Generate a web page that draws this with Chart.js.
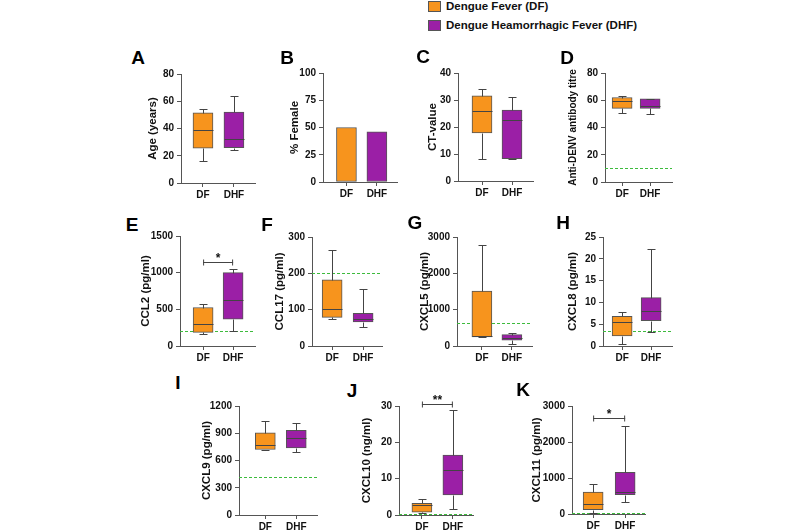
<!DOCTYPE html>
<html>
<head>
<meta charset="utf-8">
<script src="https://cdn.jsdelivr.net/npm/chart.js@4"></script>
<style>
  body { margin: 0; background: #fff; }
  #fig { position: relative; width: 800px; height: 530px; overflow: hidden; font-family: 'Liberation Sans', Arial, sans-serif; }
  #fig canvas { position: absolute; }
  .tag { position: absolute; font-weight: bold; font-size: 19px; transform: translate(-50%, -50%); color: #000; }
  .key { position: absolute; left: 428px; width: 11px; height: 9px; border: 1px solid #555; }
  .keytxt { position: absolute; left: 446px; font-weight: bold; font-size: 11.5px; line-height: 13px; color: #111; white-space: nowrap; }
</style>
</head>
<body>
<div id="fig"></div>
<script>
const groups = ['DF', 'DHF'];
const seriesNames = ['Dengue Fever (DF)', 'Dengue Heamorrhagic Fever (DHF)'];

// box plots: [min, Q1, median, Q3, max]
const ageDF = [16, 25.5, 39, 51.5, 54];
const ageDHF = [24, 26, 32, 52, 64];
const femaleDF = 50;
const femaleDHF = 46;
const ctDF = [8.3, 17.8, 25.8, 31.5, 34];
const ctDHF = [8, 8.3, 22.5, 26.3, 31];
const titreDF = [51, 54, 59.5, 62, 62.8];
const titreDHF = [50, 54, 56, 61, 61];
const ccl2DF = [160, 185, 300, 525, 570];
const ccl2DHF = [210, 365, 630, 1000, 1050];
const ccl17DF = [75, 79, 101, 182, 263];
const ccl17DHF = [53, 66, 73, 90, 156];
const cxcl5DF = [240, 250, 265, 1510, 2780];
const cxcl5DHF = [65, 158, 233, 315, 370];
const cxcl8DF = [0.5, 2.3, 5.4, 6.8, 7.9];
const cxcl8DHF = [3.1, 5.8, 8, 11.1, 22.3];
const cxcl9DF = [714, 721, 776, 904, 1032];
const cxcl9DHF = [695, 739, 849, 933, 1018];
const cxcl10DF = [0.45, 0.75, 2.75, 3.2, 4.3];
const cxcl10DHF = [1.65, 5.5, 12.5, 16.5, 29];
const cxcl11DF = [28, 120, 277, 610, 840];
const cxcl11DHF = [332, 540, 620, 1155, 2446];

// dotted reference levels
const refTitre = 10, refCcl2 = 200, refCcl17 = 200, refCxcl5 = 620;
const refCxcl8 = 3.5, refCxcl9 = 420, refCxcl10 = 0.3, refCxcl11 = 30;

// significance brackets: [level, label]
const sigCcl2 = [1150, '*'];
const sigCxcl10 = [30.6, '**'];
const sigCxcl11 = [2680, '*'];

const COLORS = ['#F7941D', '#9B1FA6'];
const EDGE = '#555';
const FONT = "'Liberation Sans', Arial, sans-serif";
const fig = document.getElementById('fig');

// legend as plain html
seriesNames.forEach((name, i) => {
  const k = document.createElement('div');
  k.className = 'key';
  k.style.top = (1 + i * 19) + 'px';
  k.style.background = COLORS[i];
  fig.appendChild(k);
  const t = document.createElement('div');
  t.className = 'keytxt';
  t.style.top = (0 + i * 19) + 'px';
  t.textContent = name;
  fig.appendChild(t);
});

function boxPlugin(stats, ref, sig) {
  return {
    id: 'boxes',
    beforeDatasetsDraw(chart) {
      if (ref == null) return;
      const {ctx, chartArea, scales: {y}} = chart;
      const py = Math.round(y.getPixelForValue(ref)) + 0.5;
      ctx.save();
      ctx.strokeStyle = '#3dbb3d';
      ctx.lineWidth = 1;
      ctx.setLineDash([3, 2]);
      ctx.beginPath();
      ctx.moveTo(chartArea.left, py);
      ctx.lineTo(chartArea.right, py);
      ctx.stroke();
      ctx.restore();
    },
    afterDatasetsDraw(chart) {
      const {ctx, scales: {x, y}} = chart;
      ctx.save();
      ctx.strokeStyle = '#444';
      ctx.lineWidth = 1;
      stats.forEach((s, i) => {
        if (!Array.isArray(s)) return;
        const cx = Math.round(x.getPixelForValue(i)) + 0.5;
        const [mn, q1, md, q3, mx] = s.map(v => Math.round(y.getPixelForValue(v)) + 0.5);
        ctx.beginPath();
        ctx.moveTo(cx, q3); ctx.lineTo(cx, mx);
        ctx.moveTo(cx - 4, mx); ctx.lineTo(cx + 4, mx);
        ctx.moveTo(cx, q1); ctx.lineTo(cx, mn);
        ctx.moveTo(cx - 4, mn); ctx.lineTo(cx + 4, mn);
        ctx.moveTo(cx - 10, md); ctx.lineTo(cx + 10, md);
        ctx.stroke();
      });
      if (sig) {
        const x0 = x.getPixelForValue(0), x1 = x.getPixelForValue(1);
        const py = Math.round(y.getPixelForValue(sig[0])) + 0.5;
        ctx.beginPath();
        ctx.moveTo(x0, py); ctx.lineTo(x1, py);
        ctx.moveTo(x0 + 0.5, py - 3); ctx.lineTo(x0 + 0.5, py + 3);
        ctx.moveTo(x1 - 0.5, py - 3); ctx.lineTo(x1 - 0.5, py + 3);
        ctx.stroke();
        ctx.fillStyle = '#111';
        ctx.font = 'bold 12px ' + FONT;
        ctx.textAlign = 'center';
        ctx.textBaseline = 'alphabetic';
        ctx.fillText(sig[1], (x0 + x1) / 2, py - 1);
      }
      ctx.restore();
    }
  };
}

function makePanel(p) {
  const titleSize = p.titleSize || 11.5;
  const W = Math.round(p.gap + titleSize * 0.6);
  const padT = 16, padR = 4, H = 24;
  const cv = document.createElement('canvas');
  cv.width = W + (p.right - p.axisX) + padR;
  cv.height = (p.bottom - p.top) + padT + H;
  cv.style.left = (p.axisX - W) + 'px';
  cv.style.top = (p.top - padT) + 'px';
  fig.appendChild(cv);

  const tag = document.createElement('div');
  tag.className = 'tag';
  tag.style.left = p.tagAt[0] + 'px';
  tag.style.top = p.tagAt[1] + 'px';
  tag.textContent = p.tag;
  fig.appendChild(tag);

  const isBox = Array.isArray(p.values[0]);
  const data = p.values.map((v, i) => ({x: i, y: isBox ? [v[1], v[3]] : v}));
  const tickFont = {family: FONT, size: 10, weight: 'bold'};

  new Chart(cv, {
    type: 'bar',
    data: {
      datasets: [{
        data: data,
        backgroundColor: COLORS,
        borderColor: EDGE,
        borderWidth: 1,
        borderSkipped: false,
        barThickness: 20
      }]
    },
    options: {
      responsive: false,
      animation: false,
      layout: {padding: {top: padT, right: padR, left: 0, bottom: 0}},
      plugins: {legend: {display: false}, tooltip: {enabled: false}},
      scales: {
        x: {
          type: 'linear',
          offset: false,
          min: p.xr[0],
          max: p.xr[1],
          afterBuildTicks: s => { s.ticks = [{value: 0}, {value: 1}]; },
          afterFit: s => { s.height = H; },
          ticks: {callback: (v, i) => groups[i], font: tickFont, color: '#111', padding: 2, autoSkip: false, maxRotation: 0},
          grid: {offset: false, drawOnChartArea: false, tickLength: 4, color: EDGE},
          border: {color: EDGE}
        },
        y: {
          min: 0,
          max: p.yMax,
          afterFit: s => { s.width = W; },
          ticks: {stepSize: p.step, callback: v => String(v), font: tickFont, color: '#111', padding: 3},
          grid: {drawOnChartArea: false, tickLength: 4, color: EDGE},
          border: {color: EDGE},
          title: {display: true, text: p.title, padding: 0, color: '#111',
                  font: {family: FONT, size: titleSize, weight: 'bold'}}
        }
      }
    },
    plugins: [boxPlugin(p.values, p.ref, p.sig)]
  });
}

const panels = [
  {tag: 'A', tagAt: [138, 58], axisX: 181, top: 74, bottom: 183, right: 255, gap: 28, xr: [-0.71, 1.68],
   yMax: 80, step: 20, title: 'Age (years)', values: [ageDF, ageDHF]},
  {tag: 'B', tagAt: [287, 58], axisX: 323, top: 73, bottom: 182, right: 397, gap: 28, xr: [-0.77, 1.66],
   yMax: 100, step: 25, title: '% Female', values: [femaleDF, femaleDHF]},
  {tag: 'C', tagAt: [423, 57], axisX: 458, top: 73, bottom: 181, right: 533, gap: 25, xr: [-0.8, 1.7],
   yMax: 40, step: 10, title: 'CT-value', values: [ctDF, ctDHF]},
  {tag: 'D', tagAt: [567, 58], axisX: 605, top: 73, bottom: 182, right: 672, gap: 32, xr: [-0.61, 1.78], titleSize: 10,
   yMax: 80, step: 20, title: 'Anti-DENV antibody titre', values: [titreDF, titreDHF], ref: refTitre},
  {tag: 'E', tagAt: [132, 225], axisX: 180, top: 236, bottom: 346, right: 255, gap: 34, xr: [-0.77, 1.73],
   yMax: 1500, step: 500, title: 'CCL2 (pg/ml)', values: [ccl2DF, ccl2DHF], ref: refCcl2, sig: sigCcl2},
  {tag: 'F', tagAt: [267, 225], axisX: 312, top: 237, bottom: 346, right: 382, gap: 32, xr: [-0.65, 1.61],
   yMax: 300, step: 100, title: 'CCL17 (pg/ml)', values: [ccl17DF, ccl17DHF], ref: refCcl17},
  {tag: 'G', tagAt: [415, 223], axisX: 457, top: 237, bottom: 346, right: 532, gap: 32, xr: [-0.83, 1.67],
   yMax: 3000, step: 1000, title: 'CXCL5 (pg/ml)', values: [cxcl5DF, cxcl5DHF], ref: refCxcl5},
  {tag: 'H', tagAt: [563, 223], axisX: 603, top: 237, bottom: 346, right: 672, gap: 30, xr: [-0.66, 1.72],
   yMax: 25, step: 5, title: 'CXCL8 (pg/ml)', values: [cxcl8DF, cxcl8DHF], ref: refCxcl8},
  {tag: 'I', tagAt: [178, 383], axisX: 239, top: 406, bottom: 515, right: 317, gap: 32, xr: [-0.85, 1.67],
   yMax: 1200, step: 300, title: 'CXCL9 (pg/ml)', values: [cxcl9DF, cxcl9DHF], ref: refCxcl9},
  {tag: 'J', tagAt: [352, 391], axisX: 399, top: 406, bottom: 515, right: 473, gap: 32, xr: [-0.74, 1.65],
   yMax: 30, step: 10, title: 'CXCL10 (ng/ml)', values: [cxcl10DF, cxcl10DHF], ref: refCxcl10, sig: sigCxcl10},
  {tag: 'K', tagAt: [523, 390], axisX: 572, top: 406, bottom: 514, right: 645, gap: 35, xr: [-0.66, 1.62],
   yMax: 3000, step: 1000, title: 'CXCL11 (pg/ml)', values: [cxcl11DF, cxcl11DHF], ref: refCxcl11, sig: sigCxcl11}
];

panels.forEach(makePanel);
</script>
</body>
</html>
